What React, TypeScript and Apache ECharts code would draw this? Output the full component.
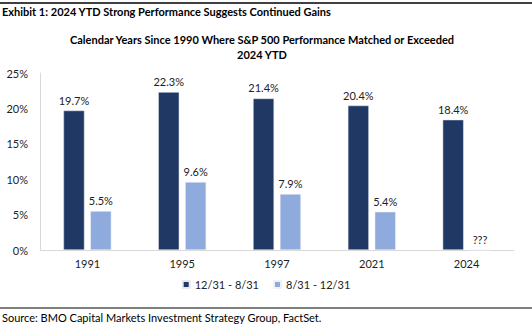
import React, { useEffect, useRef } from "react";
import * as echarts from "echarts";

const categories = ["1991", "1995", "1997", "2021", "2024"];
const firstPeriod = [19.7, 22.3, 21.4, 20.4, 18.4];
const secondPeriod: (number | null)[] = [5.5, 9.6, 7.9, 5.4, 0];
const seriesNames = ["12/31 - 8/31", "8/31 - 12/31"];
const yTicks = [0, 5, 10, 15, 20, 25];

const FONT = "Lato, 'Open Sans', sans-serif";

export default function App() {
  const ref = useRef<HTMLDivElement>(null);
  useEffect(() => {
    if (!ref.current) return;
    const chart = echarts.init(ref.current, undefined, { renderer: "svg" });
    chart.setOption({
      animation: false,
      backgroundColor: "#ffffff",
      textStyle: { fontFamily: FONT },
      graphic: [
        { type: "line", shape: { x1: 0, y1: 3, x2: 532, y2: 3 }, style: { stroke: "#000", lineWidth: 1.5 } },
        {
          type: "text", left: 2, top: 6,
          style: { text: "Exhibit 1: 2024 YTD Strong Performance Suggests Continued Gains", font: `bold 11px ${FONT}`, fill: "#000" },
        },
        {
          type: "text", x: 262, y: 34,
          style: { text: "Calendar Years Since 1990 Where S&P 500 Performance Matched or Exceeded", font: `bold 11px ${FONT}`, fill: "#000", align: "center" },
        },
        {
          type: "text", x: 262, y: 49,
          style: { text: "2024 YTD", font: `bold 11px ${FONT}`, fill: "#000", align: "center" },
        },
        { type: "line", shape: { x1: 0, y1: 308, x2: 532, y2: 308 }, style: { stroke: "#000", lineWidth: 1 } },
        {
          type: "text", left: 2, top: 312,
          style: { text: "Source: BMO Capital Markets Investment Strategy Group, FactSet.", font: `11px ${FONT}`, fill: "#000" },
        },
      ],
      grid: { left: 40, right: 18, top: 73, bottom: 76 },
      legend: {
        bottom: 31, left: "center",
        itemWidth: 7, itemHeight: 7, itemGap: 14,
        icon: "rect",
        textStyle: { fontSize: 11, color: "#222", fontFamily: FONT },
        data: seriesNames,
      },
      xAxis: {
        type: "category",
        data: categories,
        axisLine: { lineStyle: { color: "#d9d9d9", width: 1 } },
        axisTick: { show: false },
        axisLabel: { color: "#222", fontSize: 11, margin: 8, fontFamily: FONT },
      },
      yAxis: {
        type: "value",
        min: yTicks[0], max: yTicks[yTicks.length - 1], interval: 5,
        axisLine: { show: true, lineStyle: { color: "#d9d9d9" } },
        axisTick: { show: false },
        splitLine: { show: false },
        axisLabel: { formatter: "{value}%", color: "#222", fontSize: 11, margin: 12, fontFamily: FONT },
      },
      series: [
        {
          name: seriesNames[0], type: "bar", data: firstPeriod,
          barWidth: 21, barGap: "28%",
          itemStyle: { color: "#203864", borderColor: "#e6e9f0", borderWidth: 0.5 },
          label: { show: true, position: "top", distance: 5, color: "#222", fontSize: 11, fontFamily: FONT, formatter: (p: any) => `${p.value.toFixed(1)}%` },
        },
        {
          name: seriesNames[1], type: "bar", data: secondPeriod,
          barWidth: 21,
          itemStyle: { color: "#8faadc", borderColor: "#eef1f7", borderWidth: 0.5 },
          label: { show: true, position: "top", distance: 5, color: "#222", fontSize: 11, fontFamily: FONT, formatter: (p: any) => (p.value ? `${p.value.toFixed(1)}%` : "???") },
        },
      ],
    });
    return () => chart.dispose();
  }, []);
  return <div ref={ref} style={{ position: "fixed", left: 0, top: 0, width: 532, height: 326 }} />;
}
